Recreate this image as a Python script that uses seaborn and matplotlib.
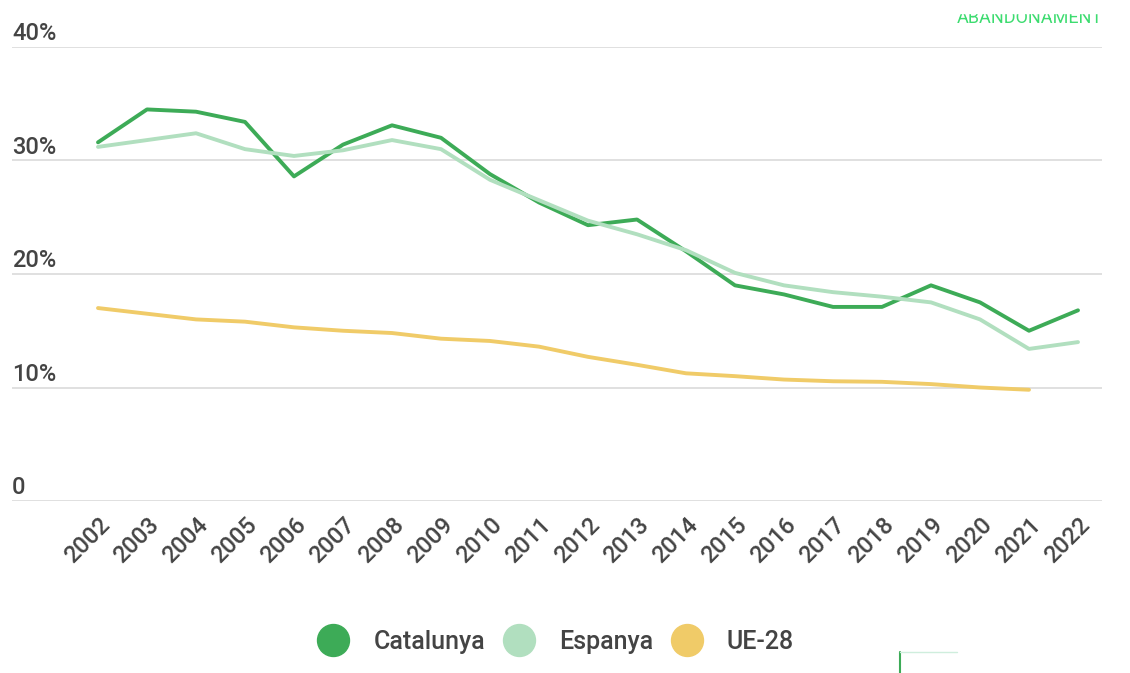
import numpy as np
import pandas as pd
import seaborn as sns
import matplotlib.pyplot as plt
from matplotlib.lines import Line2D
from matplotlib.patches import Rectangle

anys = list(range(2002, 2023))
catalunya = [31.6, 34.5, 34.3, 33.4, 28.6, 31.4, 33.1, 32.0, 28.8, 26.3, 24.3,
             24.8, 22.0, 19.0, 18.2, 17.1, 17.1, 19.0, 17.5, 15.0, 16.8]
espanya = [31.2, 31.8, 32.4, 31.0, 30.4, 30.9, 31.8, 31.0, 28.3, 26.5, 24.7,
           23.5, 22.1, 20.1, 19.0, 18.4, 18.0, 17.5, 16.0, 13.4, 14.0]
ue28 = [17.0, 16.5, 16.0, 15.8, 15.3, 15.0, 14.8, 14.3, 14.1, 13.6, 12.7,
        12.0, 11.25, 11.0, 10.7, 10.55, 10.5, 10.3, 10.0, 9.8, np.nan]
series = ['Catalunya', 'Espanya', 'UE-28']
colors = ['#3dab57', '#b1dfbf', '#f0cb68']
yticks = [0, 10, 20, 30, 40]
ylabels = ['0', '10%', '20%', '30%', '40%']

df = pd.DataFrame({'any': anys * 3,
                   'valor': catalunya + espanya + ue28,
                   'serie': [s for s in series for _ in anys]})

sns.set_style('white')
plt.rcParams['font.family'] = ['Roboto', 'DejaVu Sans']
txt = '#444444'

fig = plt.figure(figsize=(11.3, 6.73), dpi=100)
W, H = 1130, 673
ax = fig.add_axes([12 / W, 1 - 501 / H, (1102 - 12) / W, (501 - 47) / H])

sns.lineplot(data=df, x='any', y='valor', hue='serie', palette=colors,
             linewidth=2.8, ax=ax, legend=False)

ax.set_xlim(2002 - 86 / 49, 2022 + 24 / 49)
ax.set_ylim(0, 40)
for v in yticks:
    ax.axhline(v, color='#dddddd', lw=1.3, zorder=0)
for v, lab in zip(yticks, ylabels):
    ax.text(0, v + 0.6, lab, transform=ax.get_yaxis_transform(), ha='left',
            va='baseline', fontsize=17, color=txt, fontweight='medium')
ax.set_yticks([])
ax.set_xticks(anys)
ax.set_xticklabels([str(a) for a in anys], rotation=45, ha='right',
                   rotation_mode='anchor', fontsize=17, color=txt,
                   fontweight='medium')
ax.tick_params(axis='x', length=0, pad=9)
ax.set_xlabel('')
ax.set_ylabel('')
for sp in ax.spines.values():
    sp.set_visible(False)

# llegenda amb cercles
handles = [Line2D([], [], marker='o', linestyle='none', markersize=23,
                  markerfacecolor=c, markeredgecolor=c) for c in colors]
fig.legend(handles, series, loc='center', ncol=3, frameon=False,
           bbox_to_anchor=(556 / W, 1 - 642 / H),
           handlelength=1.2, handletextpad=1.0, columnspacing=0.75,
           labelcolor=txt, prop={'weight': 'medium', 'size': 18})

fig.text(957 / W, 1 - 23 / H, 'ABANDONAMENT', color='#3ddc70', fontsize=13,
         ha='left', va='baseline')
fig.add_artist(Rectangle((940 / W, 1 - 13 / H), 180 / W, 13 / H,
                         transform=fig.transFigure, color='white', zorder=5))
fig.add_artist(Line2D([900 / W, 900 / W], [0, 1 - 652 / H], color='#3dab57', lw=1.5))
fig.add_artist(Line2D([900 / W, 957 / W], [1 - 652 / H, 1 - 652 / H], color='#cfeedd', lw=1))

fig.savefig('out.png', dpi=100)
